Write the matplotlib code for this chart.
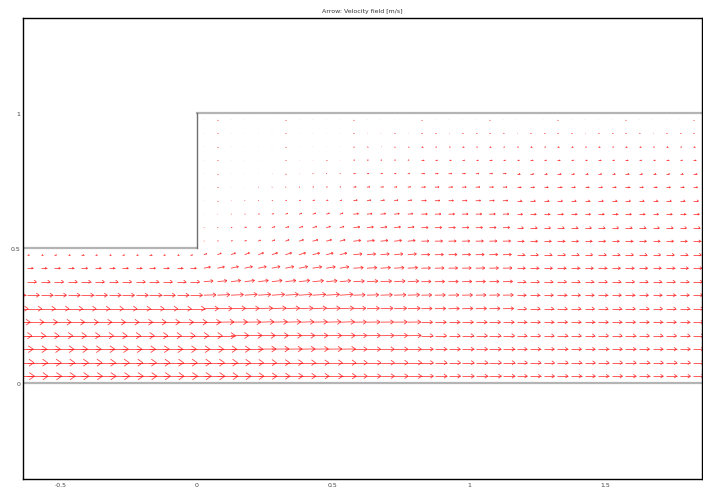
import numpy as np
import matplotlib
matplotlib.use("Agg")
import matplotlib.pyplot as plt
from matplotlib.collections import LineCollection

# grid of arrow tails (m)
x_inlet = [-0.675, -0.625, -0.575, -0.525, -0.475, -0.425, -0.375, -0.325,
           -0.275, -0.225, -0.175, -0.125, -0.075, -0.025]
x_down = [0.025, 0.075, 0.125, 0.175, 0.225, 0.275, 0.325, 0.375, 0.425, 0.475,
          0.525, 0.575, 0.625, 0.675, 0.725, 0.775, 0.825, 0.875, 0.925, 0.975,
          1.025, 1.075, 1.125, 1.175, 1.225, 1.275, 1.325, 1.375, 1.425, 1.475,
          1.525, 1.575, 1.625, 1.675, 1.725, 1.775, 1.825]
y_rows = [0.025, 0.075, 0.125, 0.175, 0.225, 0.275, 0.325, 0.375, 0.425, 0.475,
          0.525, 0.575, 0.625, 0.675, 0.725, 0.775, 0.825, 0.875, 0.925, 0.975]

# inlet channel profile (rows y=0.025..0.475)
u_inlet = [1.00, 0.98, 0.94, 0.88, 0.80, 0.70, 0.58, 0.44, 0.28, 0.10]

# profiles after the step, rows y=0.025..0.975
u_s0 = [1.00, 0.98, 0.94, 0.88, 0.80, 0.70, 0.58, 0.44, 0.31, 0.14, 0.02, 0.02, 0.01, 0.01, 0.01, 0.01, 0.01, 0.01, 0.01, 0.01]
u_s1 = [0.98, 0.96, 0.92, 0.86, 0.79, 0.70, 0.59, 0.45, 0.33, 0.18, 0.04, 0.03, 0.01, 0.01, 0.01, 0.01, 0.01, 0.01, 0.01, 0.01]
u_s2 = [0.95, 0.93, 0.90, 0.85, 0.78, 0.69, 0.59, 0.46, 0.35, 0.21, 0.06, 0.05, 0.02, 0.01, 0.01, 0.01, 0.01, 0.01, 0.01, 0.01]
u_s3 = [0.92, 0.90, 0.87, 0.83, 0.77, 0.69, 0.60, 0.47, 0.37, 0.23, 0.08, 0.08, 0.03, 0.02, 0.01, 0.01, 0.01, 0.01, 0.01, 0.01]
u_s4 = [0.89, 0.87, 0.85, 0.81, 0.75, 0.68, 0.60, 0.48, 0.38, 0.25, 0.11, 0.11, 0.05, 0.03, 0.02, 0.01, 0.01, 0.01, 0.01, 0.01]
u_s5 = [0.86, 0.85, 0.82, 0.79, 0.74, 0.68, 0.61, 0.49, 0.39, 0.27, 0.14, 0.14, 0.08, 0.04, 0.02, 0.02, 0.01, 0.01, 0.01, 0.01]
u_s6 = [0.83, 0.82, 0.80, 0.77, 0.73, 0.67, 0.62, 0.50, 0.40, 0.29, 0.17, 0.16, 0.11, 0.06, 0.03, 0.02, 0.01, 0.01, 0.01, 0.01]
u_s7 = [0.80, 0.79, 0.77, 0.75, 0.71, 0.66, 0.62, 0.51, 0.41, 0.31, 0.21, 0.18, 0.13, 0.07, 0.04, 0.02, 0.02, 0.01, 0.01, 0.01]
u_s8 = [0.78, 0.77, 0.75, 0.73, 0.70, 0.66, 0.63, 0.52, 0.43, 0.33, 0.25, 0.20, 0.15, 0.09, 0.05, 0.03, 0.02, 0.01, 0.01, 0.01]
u_s9 = [0.66, 0.66, 0.65, 0.64, 0.62, 0.59, 0.56, 0.52, 0.47, 0.41, 0.35, 0.30, 0.24, 0.18, 0.13, 0.09, 0.06, 0.04, 0.02, 0.01]
u_s10 = [0.57, 0.57, 0.56, 0.55, 0.53, 0.51, 0.49, 0.46, 0.43, 0.40, 0.36, 0.32, 0.28, 0.23, 0.19, 0.15, 0.11, 0.07, 0.04, 0.01]
u_s11 = [0.51, 0.51, 0.50, 0.49, 0.48, 0.47, 0.45, 0.43, 0.41, 0.38, 0.35, 0.32, 0.28, 0.24, 0.20, 0.16, 0.12, 0.08, 0.04, 0.01]

v_s0 = [0, 0, 0, 0, 0, 0.01, 0.02, 0.04, 0.06, 0.05, 0.01, 0.005, 0, 0, 0, 0, 0, 0, 0, 0]
v_s1 = [0, 0, 0, 0, 0.01, 0.01, 0.03, 0.05, 0.07, 0.07, 0.02, 0.01, 0.005, 0, 0, 0, 0, 0, 0, 0]
v_s2 = [0, 0, 0, 0.01, 0.01, 0.02, 0.03, 0.06, 0.08, 0.08, 0.03, 0.02, 0.01, 0.005, 0, 0, 0, 0, 0, 0]
v_s3 = [0, 0, 0, 0.01, 0.01, 0.02, 0.04, 0.06, 0.08, 0.09, 0.04, 0.03, 0.01, 0.01, 0, 0, 0, 0, 0, 0]
v_s4 = [0, 0, 0.01, 0.01, 0.02, 0.03, 0.04, 0.06, 0.08, 0.09, 0.05, 0.04, 0.02, 0.01, 0.005, 0, 0, 0, 0, 0]
v_s5 = [0, 0, 0.01, 0.01, 0.02, 0.03, 0.04, 0.06, 0.08, 0.09, 0.06, 0.05, 0.03, 0.015, 0.01, 0, 0, 0, 0, 0]
v_s6 = [0, 0, 0.01, 0.01, 0.02, 0.03, 0.04, 0.06, 0.08, 0.09, 0.07, 0.05, 0.04, 0.02, 0.01, 0, 0, 0, 0, 0]
v_s7 = [0, 0, 0.01, 0.01, 0.02, 0.03, 0.04, 0.06, 0.08, 0.09, 0.07, 0.06, 0.04, 0.025, 0.01, 0, 0, 0, 0, 0]
v_s8 = [0, 0, 0.01, 0.01, 0.02, 0.03, 0.04, 0.05, 0.07, 0.08, 0.07, 0.06, 0.05, 0.03, 0.02, 0.01, 0, 0, 0, 0]
v_s9 = [0, 0, 0, 0.01, 0.01, 0.02, 0.02, 0.03, 0.03, 0.04, 0.04, 0.04, 0.03, 0.03, 0.02, 0.01, 0.01, 0, 0, 0]
v_s10 = [0, 0, 0, 0, 0, 0.01, 0.01, 0.01, 0.01, 0.01, 0.01, 0.01, 0.01, 0.01, 0.01, 0.01, 0, 0, 0, 0]
v_s11 = [0] * 20

# how many downstream columns share each profile
u_stations = [u_s0, u_s1, u_s2, u_s3, u_s4, u_s5, u_s6, u_s7, u_s8, u_s9, u_s10, u_s11]
v_stations = [v_s0, v_s1, v_s2, v_s3, v_s4, v_s5, v_s6, v_s7, v_s8, v_s9, v_s10, v_s11]
station_cols = [1, 1, 1, 1, 1, 1, 1, 1, 3, 5, 7, 14]

# build the field
xs, ys, us, vs = [], [], [], []
for x in x_inlet:
    for y, u in zip(y_rows, u_inlet):
        xs.append(x); ys.append(y); us.append(u); vs.append(0.0)
col = 0
for up, vp, n in zip(u_stations, v_stations, station_cols):
    for k in range(n):
        x = x_down[col]
        col += 1
        for y, u, v in zip(y_rows, up, vp):
            xs.append(x); ys.append(y); us.append(u); vs.append(v)
xs = np.array(xs); ys = np.array(ys); us = np.array(us); vs = np.array(vs)

fig = plt.figure(figsize=(7.03, 4.89), dpi=100)
ax = fig.add_axes([23 / 703, 9 / 489, 679 / 703, 461 / 489])

# geometry outline
ax.plot([-0.7, 1.9], [0, 0], color="#b4b4b4", lw=1.6, zorder=1)
ax.plot([-0.7, 0], [0.5, 0.5], color="#b4b4b4", lw=1.6, zorder=1)
ax.plot([0, 1.9], [1, 1], color="#b4b4b4", lw=1.6, zorder=1)
ax.plot([0, 0], [0.5, 1], color="#707070", lw=1.0, zorder=1)

# arrows: shaft + open head
scale = 0.077
ex = xs + us * scale
ey = ys + vs * scale
L = np.hypot(ex - xs, ey - ys)
ang = np.arctan2(ey - ys, ex - xs)
hl = 0.3 * L
segs = []
for i in range(len(xs)):
    segs.append([(xs[i], ys[i]), (ex[i], ey[i])])
    for da in (np.radians(145), -np.radians(145)):
        segs.append([(ex[i], ey[i]),
                     (ex[i] + hl[i] * np.cos(ang[i] + da), ey[i] + hl[i] * np.sin(ang[i] + da))])
lc = LineCollection(segs, colors="#ff2020", linewidths=0.6, alpha=0.85, zorder=2)
ax.add_collection(lc)

ax.set_xlim(-0.64, 1.857)
ax.set_ylim(-0.356, 1.352)
ax.set_xticks([-0.5, 0, 0.5, 1, 1.5])
ax.set_xticklabels(["-0.5", "0", "0.5", "1", "1.5"])
ax.set_yticks([0, 0.5, 1])
ax.set_yticklabels(["0", "0.5", "1"])
ax.tick_params(length=0, labelsize=4.5, labelcolor="#444444", pad=2)
for s in ax.spines.values():
    s.set_color("black")
    s.set_linewidth(1.0)
ax.set_title("Arrow: Velocity field [m/s]", fontsize=4.5, color="#333333", pad=4)

fig.savefig("out.png", dpi=100)
